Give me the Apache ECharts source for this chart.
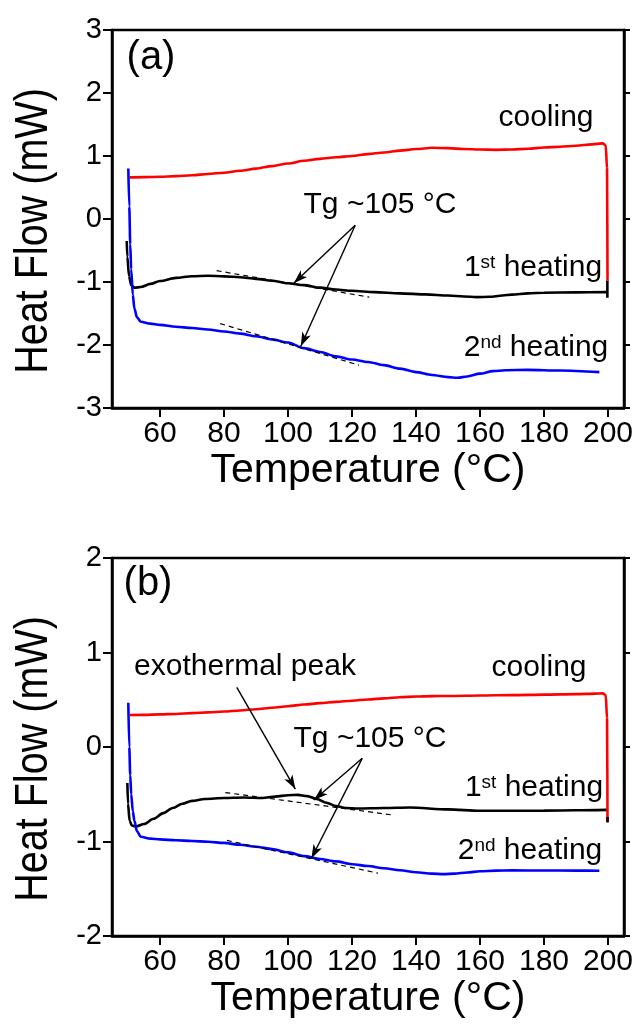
<!DOCTYPE html>
<html>
<head>
<meta charset="utf-8">
<script src="https://cdn.jsdelivr.net/npm/echarts@6.0.0/dist/echarts.min.js"></script>
<style>
  html, body { margin: 0; padding: 0; background: #fff; }
  #chart { width: 638px; height: 1025px; }
</style>
</head>
<body>
<div id="chart"></div>
<script>
// tick labels of the temperature axis (both panels)
const tempTicks = [60, 80, 100, 120, 140, 160, 180, 200];

// ---- panel (a) ----  [temperature °C, heat flow mW]
const coolingA = [[50.5,0.66],[55,0.665],[60,0.67],[65,0.68],[70,0.695],[75,0.715],[80,0.735],[85,0.765],[90,0.8],[95,0.84],[100,0.88],[105,0.925],[110,0.955],[115,0.98],[120,1.0],[125,1.03],[130,1.055],[135,1.085],[140,1.11],[145,1.13],[150,1.125],[155,1.11],[160,1.103],[165,1.098],[170,1.103],[175,1.115],[180,1.135],[185,1.148],[190,1.162],[195,1.185],[198.3,1.2],[199.3,1.17],[199.7,0.8],[199.85,-0.98]];
const heating1A = [[49.6,-0.35],[49.8,-0.6],[50.3,-0.9],[51.0,-1.05],[52,-1.09],[54,-1.08],[57,-1.03],[60,-0.985],[65,-0.935],[70,-0.908],[75,-0.9],[80,-0.91],[85,-0.925],[90,-0.95],[95,-0.98],[100,-1.02],[105,-1.05],[110,-1.09],[115,-1.12],[120,-1.14],[127,-1.16],[135,-1.18],[143,-1.197],[150,-1.215],[155,-1.23],[159,-1.24],[163,-1.235],[167,-1.215],[170,-1.2],[175,-1.18],[180,-1.17],[190,-1.165],[199.5,-1.16]];
const heating2A = [[50.1,0.8],[50.4,0.2],[50.7,-0.4],[51.0,-0.8],[51.5,-1.2],[52,-1.42],[52.8,-1.56],[54,-1.63],[57,-1.66],[60,-1.68],[65,-1.71],[70,-1.73],[75,-1.755],[80,-1.785],[85,-1.82],[90,-1.86],[95,-1.91],[100,-1.96],[105,-2.05],[110,-2.11],[115,-2.18],[120,-2.23],[125,-2.27],[130,-2.32],[135,-2.375],[140,-2.43],[145,-2.475],[150,-2.51],[153,-2.52],[156,-2.5],[160,-2.455],[164,-2.415],[168,-2.4],[175,-2.395],[185,-2.405],[197.3,-2.43]];
const endTickA = [[199.8,-0.98],[199.8,-1.25]];
const tangent1A = [[77.7,-0.82],[125.4,-1.24]];
const tangent2A = [[78.8,-1.66],[122.2,-2.32]];
const arrowsA = [[[121.0,-0.1],[101.8,-1.02]], [[121.0,-0.1],[104.0,-2.02]]];

// ---- panel (b) ----
const coolingB = [[50.6,0.338],[55,0.34],[60,0.345],[65,0.35],[70,0.358],[75,0.366],[80,0.375],[85,0.387],[90,0.4],[95,0.415],[100,0.432],[105,0.449],[110,0.464],[115,0.478],[120,0.49],[125,0.503],[130,0.515],[135,0.526],[140,0.534],[145,0.538],[150,0.54],[160,0.545],[170,0.549],[180,0.554],[190,0.559],[196,0.565],[198.3,0.567],[199.3,0.55],[199.7,0.3],[199.85,-0.79]];
const heating1B = [[49.8,-0.38],[50.0,-0.6],[50.5,-0.78],[51.2,-0.83],[52.5,-0.842],[55,-0.815],[58,-0.76],[61,-0.7],[64,-0.645],[67,-0.6],[70,-0.57],[74,-0.55],[80,-0.54],[86,-0.535],[92,-0.54],[96,-0.525],[100,-0.51],[103,-0.507],[106,-0.52],[109,-0.55],[112,-0.59],[115,-0.625],[118,-0.645],[122,-0.65],[130,-0.645],[138,-0.64],[150,-0.66],[160,-0.675],[170,-0.675],[180,-0.673],[190,-0.67],[199.5,-0.665]];
const heating2B = [[50.1,0.468],[50.4,0.0],[50.7,-0.3],[51.0,-0.5],[51.5,-0.68],[52,-0.78],[52.8,-0.89],[54,-0.95],[57,-0.97],[60,-0.978],[65,-0.987],[70,-0.995],[75,-1.003],[80,-1.015],[85,-1.035],[90,-1.055],[95,-1.08],[100,-1.115],[105,-1.155],[110,-1.185],[115,-1.21],[120,-1.24],[125,-1.26],[130,-1.283],[135,-1.305],[140,-1.325],[145,-1.34],[148.5,-1.345],[152,-1.34],[156,-1.328],[160,-1.315],[165,-1.308],[170,-1.306],[180,-1.307],[190,-1.308],[197.3,-1.31]];
const endTickB = [[199.85,-0.74],[199.85,-0.8]];
const tangent1B = [[80.4,-0.482],[132.4,-0.718]];
const tangent2B = [[80.9,-0.989],[128.1,-1.335]];
const arrowsB = [[[84.0,0.63],[102.3,-0.445]], [[123.2,-0.12],[108.1,-0.56]], [[123.2,-0.12],[107.3,-1.18]]];

const FONT = 'Liberation Sans, Arial, sans-serif';

function curve(data, color, g) {
  return {
    type: 'line', xAxisIndex: g, yAxisIndex: g, data: data,
    symbol: 'none', smooth: 0.3, smoothMonotone: 'x',
    lineStyle: { color: color, width: 2.6 }, silent: true, z: 3
  };
}

function dashed(data, g, arrows) {
  const s = {
    type: 'line', xAxisIndex: g, yAxisIndex: g, data: data, symbol: 'none',
    lineStyle: { color: '#000', width: 1.2, type: [5, 4] }, silent: true, z: 4
  };
  if (arrows) {
    s.markLine = {
      silent: true, symbol: ['none', 'arrow'], symbolSize: 12,
      lineStyle: { color: '#000', width: 1.4, type: 'solid' },
      itemStyle: { color: '#000' },
      label: { show: false },
      data: arrows.map(a => [
        { coord: a[0], symbol: 'none' },
        { coord: a[1], symbol: 'arrow', symbolSize: [7, 14] }
      ])
    };
  }
  return s;
}

function xAx(g) {
  return {
    type: 'value', gridIndex: g, min: 45, max: 205,
    name: 'Temperature (°C)', nameLocation: 'middle', nameGap: 39,
    nameTextStyle: { fontSize: 41, fontFamily: FONT, color: '#000' },
    axisLine: { show: true, onZero: false, lineStyle: { color: '#000', width: 2.5 } },
    axisTick: { show: true, inside: false, length: 9, customValues: tempTicks, lineStyle: { width: 2 } },
    axisLabel: { customValues: tempTicks, fontSize: 30, fontFamily: FONT, color: '#000', margin: 11 },
    splitLine: { show: false }
  };
}

function yAx(g, min, max) {
  return {
    type: 'value', gridIndex: g, min: min, max: max, interval: 1,
    axisLine: { show: true, lineStyle: { color: '#000', width: 2.5 } },
    axisTick: { show: true, inside: false, length: 9, lineStyle: { width: 2 } },
    axisLabel: { fontSize: 29, fontFamily: FONT, color: '#000', margin: 10 },
    splitLine: { show: false }
  };
}

function yRight(g, min, max) {
  return {
    type: 'value', gridIndex: g, position: 'right', min: min, max: max, interval: 1,
    axisLine: { show: true, lineStyle: { color: '#000', width: 2.5 } },
    axisTick: { show: true, inside: false, length: 6, lineStyle: { width: 2 } },
    axisLabel: { show: false }, splitLine: { show: false }
  };
}

function txt(x, y, text, size, extra) {
  return {
    type: 'text', x: x, y: y, silent: true, z: 10,
    style: Object.assign({
      text: text, fontSize: size, fontFamily: FONT, fill: '#000',
      align: 'center', verticalAlign: 'middle'
    }, extra || {})
  };
}
// rotated y-axis title, slightly condensed like the original
function yTitle(x, y) {
  const t = txt(x, y, 'Heat Flow (mW)', 46);
  t.rotation = Math.PI / 2;
  t.scaleX = 0.86;
  return t;
}
const supRich = { rich: { sup: { fontSize: 19, fontFamily: FONT, fill: '#000', verticalAlign: 'top' } } };

const chart = echarts.init(document.getElementById('chart'), null, { renderer: 'canvas' });
chart.setOption({
  animation: false,
  backgroundColor: '#fff',
  grid: [
    { left: 112, top: 30, width: 512, height: 378, show: true, borderColor: '#000', borderWidth: 2.5, containLabel: false },
    { left: 112, top: 558, width: 512, height: 378, show: true, borderColor: '#000', borderWidth: 2.5, containLabel: false }
  ],
  xAxis: [xAx(0), xAx(1)],
  yAxis: [yAx(0, -3, 3), yAx(1, -2, 2), yRight(0, -3, 3), yRight(1, -2, 2)],
  series: [
    curve(coolingA, '#ff0000', 0),
    curve(heating1A, '#000000', 0),
    curve(endTickA, '#000000', 0),
    curve(heating2A, '#0000ff', 0),
    dashed(tangent1A, 0, arrowsA),
    dashed(tangent2A, 0),
    curve(coolingB, '#ff0000', 1),
    curve(heating1B, '#000000', 1),
    curve(endTickB, '#000000', 1),
    curve(heating2B, '#0000ff', 1),
    dashed(tangent1B, 1, arrowsB),
    dashed(tangent2B, 1)
  ],
  graphic: [
    yTitle(34, 231),
    yTitle(34, 759),
    txt(151, 58, '(a)', 40),
    txt(546, 118, 'cooling', 30),
    txt(380, 205, 'Tg ~105 °C', 30),
    txt(533, 268, '1{sup|st} heating', 30, supRich),
    txt(536, 348, '2{sup|nd} heating', 30, supRich),
    txt(148, 584, '(b)', 40),
    txt(245, 667, 'exothermal peak', 30),
    txt(539, 668, 'cooling', 30),
    txt(370, 739, 'Tg ~105 °C', 30),
    txt(534, 788, '1{sup|st} heating', 30, supRich),
    txt(530, 851, '2{sup|nd} heating', 30, supRich)
  ]
});
</script>
</body>
</html>
